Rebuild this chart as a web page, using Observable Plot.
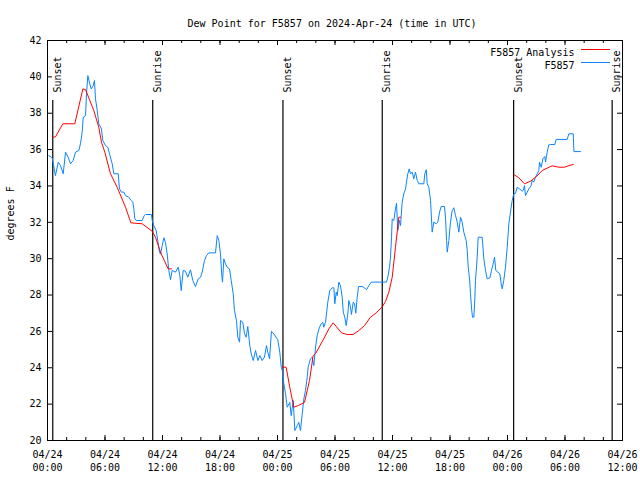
<!DOCTYPE html>
<html><head><meta charset="utf-8">
<script src="https://cdn.jsdelivr.net/npm/d3@7"></script>
<script src="https://cdn.jsdelivr.net/npm/@observablehq/plot@0.6"></script>
<style>body{margin:0;background:#fff}svg{display:block}</style>
</head><body><div id="chart"></div>
<script>
const title = "Dew Point for F5857 on 2024-Apr-24 (time in UTC)";
const yLabel = "degrees F";
const startTime = "2024-04-24T00:00:00Z";
const endTime = "2024-04-26T12:00:00Z";
const seriesNames = ["F5857 Analysis", "F5857"];
const seriesColors = ["#ff0000", "#0a84ff"];
const yTicks = [20, 22, 24, 26, 28, 30, 32, 34, 36, 38, 40, 42];
const sunEventNames = ["Sunset", "Sunrise", "Sunset", "Sunrise", "Sunset", "Sunrise"];
const sunEventHours = [0.55, 10.98, 24.57, 34.93, 48.64, 58.92];

// observations: hours since 2024-04-24 00:00 UTC, dew point (F)
const obsHours = [
0.14,0.49,0.83,1.12,1.36,1.64,1.88,2.16,2.40,2.68,
2.92,3.27,3.44,3.62,3.73,3.97,4.07,4.21,4.41,4.56,
4.77,4.90,5.01,5.19,5.35,5.63,5.77,6.05,6.29,6.47,
6.75,6.92,7.38,7.51,7.72,7.96,8.14,8.48,8.73,8.90,
9.01,9.11,9.26,9.88,10.09,10.23,10.85,10.93,11.09,11.34,
11.51,11.69,11.79,11.97,12.14,12.31,12.49,12.66,12.84,13.01,
13.36,13.64,13.81,13.95,14.16,14.40,14.64,14.92,15.16,15.44,
15.73,15.97,16.14,16.38,16.59,16.83,17.53,17.71,17.88,18.05,
18.16,18.26,18.40,18.57,18.75,18.99,19.17,19.38,19.51,19.72,
19.86,20.04,20.14,20.38,20.56,20.73,20.90,21.11,21.26,21.47,
21.71,21.95,22.16,22.40,22.64,22.85,22.99,23.17,23.37,23.61,
24.03,24.24,24.39,24.55,24.66,24.84,25.01,25.12,25.28,25.43,
25.64,25.81,26.06,26.22,26.40,26.58,26.75,26.92,27.10,27.20,
27.44,27.62,27.79,27.97,28.14,28.38,28.56,28.73,28.83,29.01,
29.11,29.25,29.46,29.71,29.88,29.98,30.13,30.23,30.40,30.57,
30.75,30.86,31.02,31.17,31.34,31.44,31.62,31.72,31.90,32.04,
32.17,32.32,32.45,32.84,33.08,33.29,33.53,33.78,35.37,35.51,
35.69,35.79,35.90,35.97,36.14,36.31,36.42,36.55,36.73,36.84,
37.01,37.18,37.36,37.46,37.60,37.74,37.88,38.06,38.22,38.40,
38.58,38.75,39.27,39.37,39.52,39.62,39.79,39.97,40.14,40.31,
40.56,40.73,40.91,41.08,41.43,41.53,41.64,41.71,41.88,42.05,
42.23,42.40,42.58,42.75,42.92,43.10,43.27,43.44,43.69,43.80,
43.90,44.04,44.14,44.25,44.35,44.49,44.59,44.66,44.84,44.94,
45.36,45.53,45.71,45.88,46.16,46.33,46.51,46.65,46.78,46.99,
47.20,47.34,47.45,47.61,47.79,47.97,48.14,48.31,48.49,48.66,
48.84,49.01,49.25,49.54,49.64,49.77,49.88,50.06,50.22,50.47,
50.58,50.74,50.92,51.10,51.27,51.34,51.52,51.69,51.89,51.97,
52.14,52.31,52.49,52.94,53.08,54.23,54.40,54.86,54.93,55.62
];
const obsValues = [
35.67,35.55,34.57,35.31,35.12,34.67,35.86,35.58,35.22,35.40,
35.86,35.95,36.32,36.96,37.78,37.87,39.07,40.07,39.62,39.34,
39.52,39.80,38.79,38.15,37.42,37.14,36.50,36.22,36.13,35.77,
35.22,34.67,34.67,33.84,33.66,33.66,33.47,33.38,33.20,33.11,
32.74,32.19,32.10,32.10,32.37,32.43,32.43,32.10,31.82,31.55,
31.00,30.36,30.25,30.72,31.15,30.90,30.26,29.35,28.84,29.35,
29.26,29.53,29.07,28.25,29.35,29.31,28.98,29.39,28.80,28.47,
28.89,28.98,29.26,29.90,30.17,30.32,30.32,31.27,31.00,30.26,
29.26,28.71,29.99,29.72,29.53,29.44,28.80,28.07,27.15,26.60,
25.68,25.41,26.60,26.50,25.87,25.68,26.27,25.22,24.77,24.40,
24.95,24.40,24.67,24.40,24.58,25.22,24.86,24.49,26.01,25.87,
25.54,24.86,24.03,23.76,23.12,22.57,21.83,21.92,22.10,21.37,
22.20,20.55,20.82,21.00,20.55,21.47,22.29,22.75,23.48,24.03,
24.49,24.58,24.12,25.13,25.77,26.23,26.42,26.50,26.23,26.50,
26.96,27.61,28.25,28.40,28.40,27.52,28.16,27.97,28.71,28.52,
27.88,27.06,26.78,26.32,26.96,27.70,27.33,26.93,27.61,27.52,
27.00,27.88,28.47,28.47,28.40,28.29,28.52,28.71,28.71,28.98,
29.53,30.08,31.18,32.19,32.10,32.74,33.05,31.55,32.10,31.82,
33.11,33.57,33.84,34.21,34.67,34.94,34.67,34.76,34.39,34.76,
34.30,34.12,34.12,34.67,34.89,34.12,33.93,33.20,31.46,32.01,
31.92,32.01,32.56,32.87,32.87,32.28,31.00,30.36,31.00,32.01,
32.65,32.80,32.37,32.01,31.46,32.28,32.01,31.46,31.00,30.45,
29.53,28.89,28.07,27.24,26.78,26.78,27.79,28.80,30.08,31.18,
31.18,29.99,29.35,28.89,28.95,29.35,29.72,30.08,29.35,29.26,
29.17,28.62,28.34,28.80,29.53,30.63,31.92,32.56,33.20,33.57,
33.60,33.93,33.84,33.71,33.75,34.02,33.47,33.66,33.84,34.02,
34.30,34.21,34.48,34.67,34.85,35.31,35.03,35.49,35.62,35.31,
35.86,36.26,36.28,36.28,36.56,36.56,36.87,36.87,35.89,35.89
];

// analysis: one list per night (hours since start, dew point F)
const analysisHours = [
  [0.55,0.83,1.60,2.85,3.69,3.97,4.83,5.35,5.63,5.98,6.57,7.27,8.14,8.70,9.88,10.92,11.27,11.79,12.59,12.94],
  [24.55,24.90,25.28,25.70,26.16,26.82,27.34,27.72,27.96,28.77,29.36,29.81,30.68,31.27,31.90,32.49,33.08,33.70,34.30,34.93,35.28,35.62,35.97,36.31,36.66,36.84],
  [48.66,49.18,49.77,50.40,51.03,51.62,52.66,53.36,53.95,54.40,54.86]
];
const analysisValues = [
  [36.68,36.70,37.42,37.42,39.34,39.30,38.15,37.23,36.41,35.86,34.67,33.93,32.83,31.97,31.92,31.51,31.18,30.36,29.44,29.44],
  [24.03,24.03,22.93,21.83,21.92,22.10,23.30,24.67,24.77,25.54,26.14,26.47,25.92,25.83,25.83,26.05,26.32,26.78,27.02,27.35,27.66,28.16,28.98,30.63,32.28,32.28],
  [34.63,34.45,34.12,34.26,34.52,34.85,35.11,35.03,35.03,35.12,35.18]
];

const t0 = new Date(startTime).getTime();
const toDate = h => new Date(t0 + h * 3600e3);
const obs = obsHours.map((h, i) => ({t: toDate(h), v: obsValues[i]}));
const analysis = analysisHours.flatMap((hs, s) => hs.map((h, i) => ({t: toDate(h), v: analysisValues[s][i], seg: s})));
const sunEvents = sunEventHours.map((h, i) => ({t: toDate(h), name: sunEventNames[i]}));

const W = 640, H = 480, mT = 40, mR = 18, mB = 40, mL = 47;
const fw = W - mL - mR, fh = H - mT - mB;
const x0 = new Date(startTime), x1 = new Date(endTime);
const majorTicks = d3.utcHour.every(6).range(x0, new Date(x1.getTime() + 1));
const minorTicks = d3.utcHour.every(2).range(x0, new Date(x1.getTime() + 1));
const fmt = d3.utcFormat("%m/%d\n%H:%M");
const font = "'DejaVu Sans Mono', 'Liberation Mono', monospace";
const fs = 10;

const chart = Plot.plot({
  width: W, height: H, marginTop: mT, marginRight: mR, marginBottom: mB, marginLeft: mL,
  style: {fontFamily: font, fontSize: fs + "px", background: "#fff", color: "#000"},
  x: {type: "utc", domain: [x0, x1]},
  y: {domain: [20, 42]},
  marks: [
    Plot.axisX(majorTicks, {tickSize: 0, tickPadding: 8, tickFormat: fmt, lineHeight: 1.3, fontSize: fs, label: null}),
    Plot.axisY(yTicks, {tickSize: 0, tickPadding: 6, tickFormat: d => String(d), fontSize: fs, label: null}),
    Plot.tickX(majorTicks, {x: d => d, insetTop: fh - 5, stroke: "#000"}),
    Plot.tickX(majorTicks, {x: d => d, insetBottom: fh - 5, stroke: "#000"}),
    Plot.tickX(minorTicks, {x: d => d, insetTop: fh - 3, stroke: "#000"}),
    Plot.tickX(minorTicks, {x: d => d, insetBottom: fh - 3, stroke: "#000"}),
    Plot.tickY(yTicks, {y: d => d, insetRight: fw - 5, stroke: "#000"}),
    Plot.tickY(yTicks, {y: d => d, insetLeft: fw - 5, stroke: "#000"}),
    Plot.ruleX(sunEvents, {x: "t", insetTop: 60, stroke: "#000", strokeWidth: 1.2}),
    Plot.text(sunEvents, {x: "t", text: "name", rotate: -90, textAnchor: "start", frameAnchor: "top", dy: 52, dx: 1, fontSize: fs, fill: "#000"}),
    Plot.line(obs, {x: "t", y: "v", stroke: seriesColors[1], strokeWidth: 1}),
    Plot.line(analysis, {x: "t", y: "v", z: "seg", stroke: seriesColors[0], strokeWidth: 1}),
    Plot.frame({stroke: "#000"}),
    Plot.text([title], {frameAnchor: "top", dy: -21, dx: -3, fontSize: fs, fill: "#000"}),
    Plot.text([yLabel], {frameAnchor: "left", dx: -37, rotate: -90, fontSize: fs, fill: "#000"}),
    Plot.text([seriesNames[0]], {frameAnchor: "top-right", dx: -48, dy: 8, textAnchor: "end", fontSize: fs, fill: "#000"}),
    Plot.text([seriesNames[1]], {frameAnchor: "top-right", dx: -48, dy: 21, textAnchor: "end", fontSize: fs, fill: "#000"})
  ]
});
document.getElementById("chart").appendChild(chart);

// legend swatches
const svg = d3.select(chart);
[[mT + 9.5, seriesColors[0]], [mT + 22.5, seriesColors[1]]].forEach(([y, c]) => {
  svg.append("line").attr("x1", W - mR - 41).attr("x2", W - mR - 12)
    .attr("y1", y).attr("y2", y).attr("stroke", c).attr("stroke-width", 1);
});
</script>
</body></html>
